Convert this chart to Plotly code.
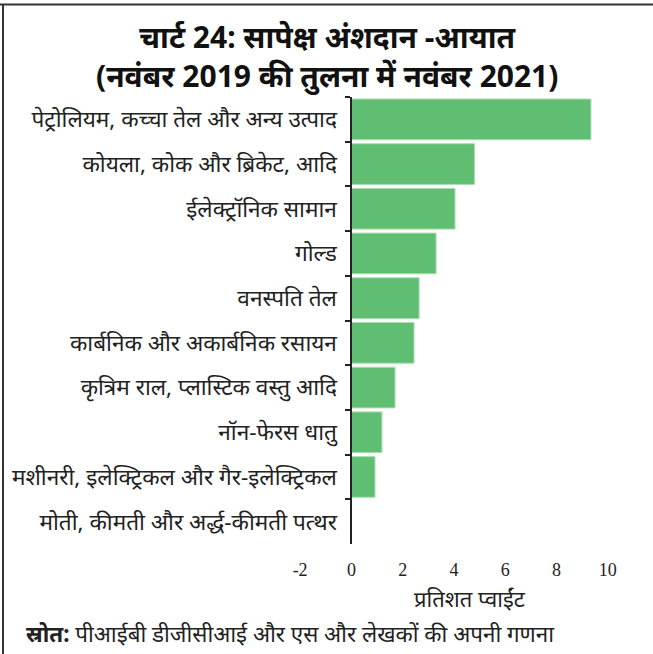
import plotly.graph_objects as go

categories = [
    "पेट्रोलियम, कच्चा तेल और अन्य उत्पाद",
    "कोयला, कोक और ब्रिकेट, आदि",
    "ईलेक्ट्रॉनिक सामान",
    "गोल्ड",
    "वनस्पति तेल",
    "कार्बनिक और अकार्बनिक रसायन",
    "कृत्रिम राल, प्लास्टिक वस्तु आदि",
    "नॉन-फेरस धातु",
    "मशीनरी, इलेक्ट्रिकल और गैर-इलेक्ट्रिकल",
    "मोती, कीमती और अर्द्ध-कीमती पत्थर",
]
values = [9.34, 4.80, 4.04, 3.30, 2.64, 2.44, 1.70, 1.19, 0.92, 0.0]
x_ticks = [-2, 0, 2, 4, 6, 8, 10]

title_text = "<b>चार्ट 24: सापेक्ष अंशदान -आयात<br>(नवंबर 2019 की तुलना में नवंबर 2021)</b>"
x_title = "प्रतिशत प्वाईंट"
source_text = "<b>स्रोत:</b> पीआईबी डीजीसीआई और एस और लेखकों की अपनी गणना"

W, H = 653, 654
L, R, T, B = 295, 40, 97, 110
xmin, xmax = -2.2, 10.2
pw, ph = W - L - R, H - T - B

def px(xp):
    return (xp - L) / pw

def py(yp):
    return (H - B - yp) / ph

fig = go.Figure(go.Bar(
    x=values, y=categories, orientation="h",
    marker=dict(color="#5FBE72", line=dict(color="#A9DDB2", width=1)),
))

fig.update_layout(
    width=W, height=H,
    margin=dict(l=L, r=R, t=T, b=B),
    paper_bgcolor="white", plot_bgcolor="white",
    showlegend=False,
    bargap=0.09,
    font=dict(family="Noto Sans", color="#222222"),
)

fig.update_xaxes(
    range=[xmin, xmax], tickvals=x_ticks, ticktext=[str(v) for v in x_ticks],
    showline=False, showgrid=False, zeroline=False, ticks="",
    tickfont=dict(family="Liberation Serif", size=18, color="#222222"),
    ticklabelstandoff=13,
)
fig.update_yaxes(
    categoryorder="array", categoryarray=categories, autorange="reversed",
    anchor="free", position=(0 - xmin) / (xmax - xmin),
    showline=True, linecolor="#222222", linewidth=2,
    ticks="outside", ticklen=5, tickwidth=2, tickcolor="#222222",
    tickson="boundaries", showgrid=False, zeroline=False,
    tickfont=dict(size=22.6, color="#222222"),
    ticklabelstandoff=9,
)

fig.add_annotation(text=title_text, xref="paper", yref="paper",
                   x=px(326.5), y=py(56.5), xanchor="center", yanchor="middle",
                   showarrow=False, align="center",
                   font=dict(size=30, color="#111111"))

fig.add_annotation(text=x_title, xref="paper", yref="paper",
                   x=px(470), y=py(598), xanchor="center", yanchor="middle",
                   showarrow=False, font=dict(size=22, color="#222222"))
fig.add_annotation(text=source_text, xref="paper", yref="paper",
                   x=px(24), y=py(633), xanchor="left", yanchor="middle",
                   showarrow=False, font=dict(size=22.4, color="#222222"))

# frame lines (top and left)
fig.add_shape(type="line", xref="paper", yref="paper",
              x0=px(0), x1=px(W), y0=py(4.5), y1=py(4.5),
              line=dict(color="#333333", width=2))
fig.add_shape(type="line", xref="paper", yref="paper",
              x0=px(3), x1=px(3), y0=py(4.5), y1=py(H),
              line=dict(color="#333333", width=2))

fig.write_html("out.html")
